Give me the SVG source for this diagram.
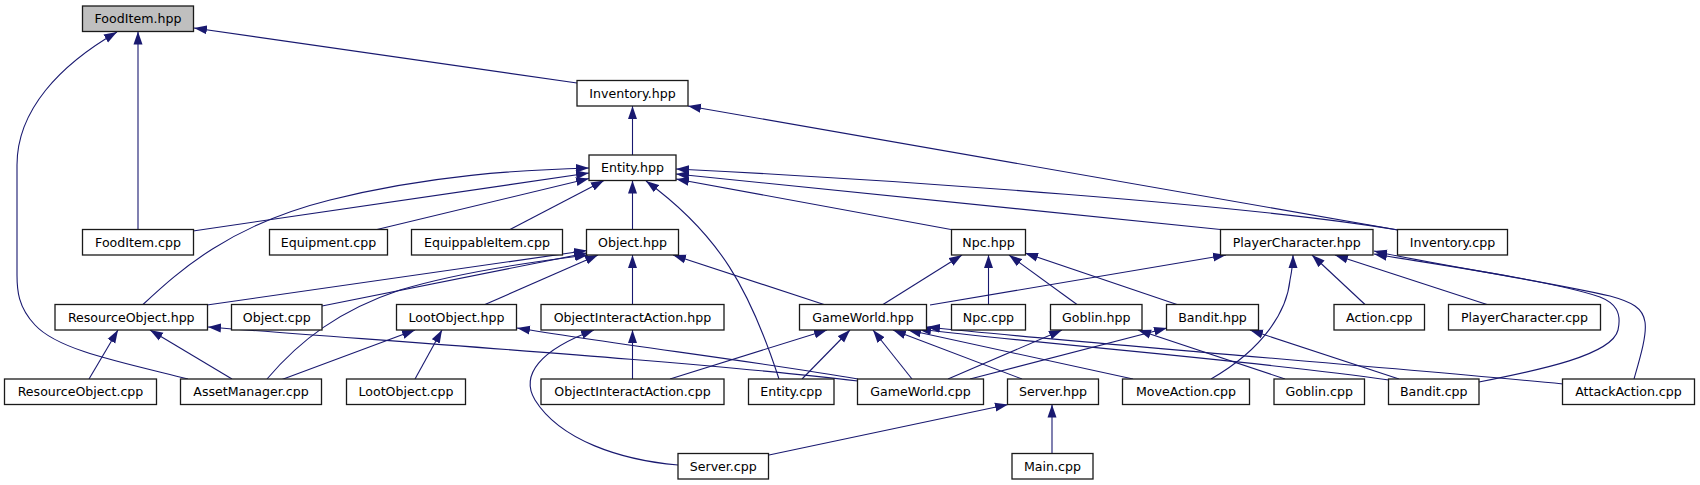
<svg xmlns="http://www.w3.org/2000/svg" width="1700" height="485" viewBox="0 0 1700 485">
<style>
rect{fill:#ffffff;stroke:#1a1a1a;stroke-width:1.3}
rect.hl{fill:#bfbfbf}
text{font-family:"DejaVu Sans","Liberation Sans",sans-serif;font-size:12.6px;text-anchor:middle;fill:#000}
#edges path{fill:none;stroke:#191970;stroke-width:1.1;marker-end:url(#ah)}
</style>
<defs>
<marker id="ah" markerUnits="userSpaceOnUse" markerWidth="13" markerHeight="10" refX="13" refY="5" orient="auto" viewBox="0 0 13 10">
<path d="M0,0.5 L13,5 L0,9.5 z" fill="#191970"/>
</marker>
</defs>
<rect x="0" y="0" width="1700" height="485" style="stroke:none;fill:#fff"/>
<g id="edges">
<path d="M577,83 L194,28"/>
<path d="M138,229.5 L138,31.5"/>
<path d="M188,379 C120,362 58,350 35,325 C18,307 17,290 17,275 L17,165 C17,110 60,65 117,32"/>
<path d="M632.5,155 L632.5,106"/>
<path d="M1398,230 L688,106"/>
<path d="M143,304.5 C180,270 230,225 330,200 C430,175 520,170 589,168"/>
<path d="M193,231 L589,173"/>
<path d="M377,229.5 L589,178.5"/>
<path d="M510,229.5 L604,180.5"/>
<path d="M632.5,229.5 L632.5,180.5"/>
<path d="M779,379 C750,290 720,235 646,181"/>
<path d="M951,229.5 L676,179"/>
<path d="M1220.5,229.5 L676,174"/>
<path d="M1398,230 C1250,205 900,180 676,169"/>
<path d="M207,305 L587,250.5"/>
<path d="M322,306 L587,253"/>
<path d="M267,379 C300,340 340,310 400,290 C460,272 530,262 588,255"/>
<path d="M485,304.5 L598,255"/>
<path d="M632.5,304.5 L632.5,255"/>
<path d="M824,304.5 L673,255"/>
<path d="M883,304.5 L962,255"/>
<path d="M988.5,304.5 L988.5,255"/>
<path d="M1077,304.5 L1009,255"/>
<path d="M1177,304.5 L1025,253"/>
<path d="M930,305 L1226,255"/>
<path d="M1211,379 C1265,348 1287,310 1290,280 C1292,270 1293,262 1293,255"/>
<path d="M1365,304.5 L1312,255"/>
<path d="M1487,304.5 L1335,255"/>
<path d="M1479,382 C1540,370 1612,355 1618,330 C1622,312 1615,303 1600,297 C1550,280 1420,262 1374,254"/>
<path d="M1634,379 C1640,358 1647,335 1645,322 C1643,308 1632,302 1610,296 C1550,282 1420,262 1374,251"/>
<path d="M89,379 L118,330"/>
<path d="M232,379 L150,330"/>
<path d="M858,381 C700,362 400,342 208,327"/>
<path d="M282,379.5 L415,330"/>
<path d="M415,379 L442,330"/>
<path d="M858,379 C760,362 620,345 517,328"/>
<path d="M632.5,379 L632.5,330"/>
<path d="M678,465 C620,460 560,440 535,400 C520,375 540,350 594,330"/>
<path d="M670,379 L827,330"/>
<path d="M802,379 L850,330"/>
<path d="M912,379 L873,330"/>
<path d="M1022,379 L893,330"/>
<path d="M1133,379 L908,330"/>
<path d="M1389,380 C1250,360 1050,345 918,329"/>
<path d="M1563,384 C1400,368 1100,345 927,327"/>
<path d="M948,379 L1062,330"/>
<path d="M1285,379 L1138,330"/>
<path d="M970,379 L1167,328"/>
<path d="M1399,379 L1250,330"/>
<path d="M769,455 L1008,404.5"/>
<path d="M1052,453.5 L1052,404.5"/>
</g>
<g id="n_FoodItem_hpp"><rect class="hl" x="82.5" y="6" width="111" height="25.5"/><text x="138" y="23">FoodItem.hpp</text></g>
<g id="n_Inventory_hpp"><rect x="577" y="80.5" width="111" height="25.5"/><text x="632.5" y="97.5">Inventory.hpp</text></g>
<g id="n_Entity_hpp"><rect x="589" y="155" width="87" height="25.5"/><text x="632.5" y="172">Entity.hpp</text></g>
<g id="n_FoodItem_cpp"><rect x="82.5" y="229.5" width="111" height="25.5"/><text x="138" y="246.5">FoodItem.cpp</text></g>
<g id="n_Equipment_cpp"><rect x="269.5" y="229.5" width="118" height="25.5"/><text x="328.5" y="246.5">Equipment.cpp</text></g>
<g id="n_EquippableItem_cpp"><rect x="411.5" y="229.5" width="151" height="25.5"/><text x="487" y="246.5">EquippableItem.cpp</text></g>
<g id="n_Object_hpp"><rect x="586.5" y="229.5" width="92" height="25.5"/><text x="632.5" y="246.5">Object.hpp</text></g>
<g id="n_Npc_hpp"><rect x="951.5" y="229.5" width="74" height="25.5"/><text x="988.5" y="246.5">Npc.hpp</text></g>
<g id="n_PlayerCharacter_hpp"><rect x="1220.5" y="229.5" width="152.5" height="25.5"/><text x="1296.75" y="246.5">PlayerCharacter.hpp</text></g>
<g id="n_Inventory_cpp"><rect x="1397.5" y="229.5" width="110" height="25.5"/><text x="1452.5" y="246.5">Inventory.cpp</text></g>
<g id="n_ResourceObject_hpp"><rect x="55" y="304.5" width="152.5" height="25.5"/><text x="131.25" y="321.5">ResourceObject.hpp</text></g>
<g id="n_Object_cpp"><rect x="231.5" y="304.5" width="90.5" height="25.5"/><text x="276.75" y="321.5">Object.cpp</text></g>
<g id="n_LootObject_hpp"><rect x="396.5" y="304.5" width="120" height="25.5"/><text x="456.5" y="321.5">LootObject.hpp</text></g>
<g id="n_ObjectInteractAction_hpp"><rect x="541" y="304.5" width="183" height="25.5"/><text x="632.5" y="321.5">ObjectInteractAction.hpp</text></g>
<g id="n_GameWorld_hpp"><rect x="799.5" y="304.5" width="127" height="25.5"/><text x="863" y="321.5">GameWorld.hpp</text></g>
<g id="n_Npc_cpp"><rect x="951.5" y="304.5" width="74" height="25.5"/><text x="988.5" y="321.5">Npc.cpp</text></g>
<g id="n_Goblin_hpp"><rect x="1050.5" y="304.5" width="91.5" height="25.5"/><text x="1096.25" y="321.5">Goblin.hpp</text></g>
<g id="n_Bandit_hpp"><rect x="1166.5" y="304.5" width="92" height="25.5"/><text x="1212.5" y="321.5">Bandit.hpp</text></g>
<g id="n_Action_cpp"><rect x="1334" y="304.5" width="90.5" height="25.5"/><text x="1379.25" y="321.5">Action.cpp</text></g>
<g id="n_PlayerCharacter_cpp"><rect x="1448.5" y="304.5" width="152" height="25.5"/><text x="1524.5" y="321.5">PlayerCharacter.cpp</text></g>
<g id="n_ResourceObject_cpp"><rect x="4.5" y="379" width="152" height="25.5"/><text x="80.5" y="396">ResourceObject.cpp</text></g>
<g id="n_AssetManager_cpp"><rect x="180.5" y="379" width="141" height="25.5"/><text x="251" y="396">AssetManager.cpp</text></g>
<g id="n_LootObject_cpp"><rect x="346.5" y="379" width="119" height="25.5"/><text x="406" y="396">LootObject.cpp</text></g>
<g id="n_ObjectInteractAction_cpp"><rect x="541" y="379" width="183" height="25.5"/><text x="632.5" y="396">ObjectInteractAction.cpp</text></g>
<g id="n_Entity_cpp"><rect x="748.5" y="379" width="85.5" height="25.5"/><text x="791.25" y="396">Entity.cpp</text></g>
<g id="n_GameWorld_cpp"><rect x="857.5" y="379" width="126" height="25.5"/><text x="920.5" y="396">GameWorld.cpp</text></g>
<g id="n_Server_hpp"><rect x="1007.5" y="379" width="91" height="25.5"/><text x="1053" y="396">Server.hpp</text></g>
<g id="n_MoveAction_cpp"><rect x="1122.5" y="379" width="127" height="25.5"/><text x="1186" y="396">MoveAction.cpp</text></g>
<g id="n_Goblin_cpp"><rect x="1274" y="379" width="90.5" height="25.5"/><text x="1319.25" y="396">Goblin.cpp</text></g>
<g id="n_Bandit_cpp"><rect x="1388.5" y="379" width="90.5" height="25.5"/><text x="1433.75" y="396">Bandit.cpp</text></g>
<g id="n_AttackAction_cpp"><rect x="1562.5" y="379" width="132" height="25.5"/><text x="1628.5" y="396">AttackAction.cpp</text></g>
<g id="n_Server_cpp"><rect x="678" y="453.5" width="90.5" height="25.5"/><text x="723.25" y="470.5">Server.cpp</text></g>
<g id="n_Main_cpp"><rect x="1012" y="453.5" width="81" height="25.5"/><text x="1052.5" y="470.5">Main.cpp</text></g>
</svg>
